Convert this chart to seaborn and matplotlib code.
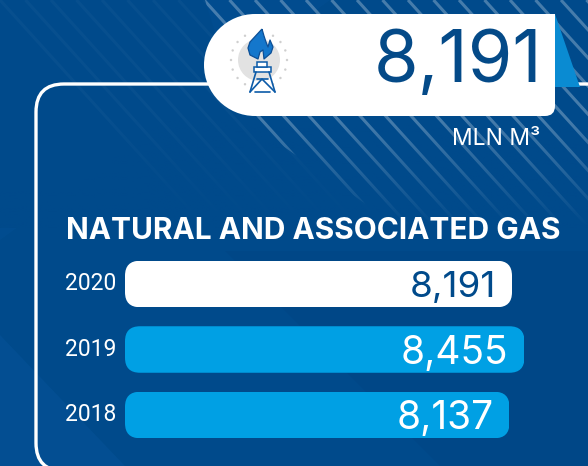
import numpy as np
import seaborn as sns
import matplotlib
matplotlib.use('Agg')
import matplotlib.pyplot as plt
from matplotlib.patches import FancyBboxPatch, PathPatch, Polygon, Circle
from matplotlib.path import Path
from matplotlib.transforms import ScaledTranslation

# chart values
years = ['2020', '2019', '2018']
gas_values = [8191, 8455, 8137]
value_labels = ['8,191', '8,455', '8,137']
headline = '8,191'
unit = 'MLN M³'
title = 'NATURAL AND ASSOCIATED GAS'

NAVY = '#004a8b'
BLUE = '#00a0e4'
W, H = 588, 466

sns.set_theme(style='white')
plt.rcParams['font.family'] = ['Inter', 'DejaVu Sans']

fig = plt.figure(figsize=(W / 100, H / 100), dpi=100)

# background layer works in reference pixels
bg = fig.add_axes([0, 0, 1, 1])
bg.axis('off')
fig.patch.set_facecolor(NAVY)

# soft diagonal bands
bg.add_patch(Polygon([(0, 335), (0, 466), (125, 466)], color='#0a5aa3', alpha=0.3, lw=0))
bg.add_patch(Polygon([(0, 0), (150, 0), (0, 110)], color='#0a5aa3', alpha=0.35, lw=0))
bg.add_patch(Polygon([(0, 110), (150, 0), (330, 0), (0, 240)], color='#0a5aa3', alpha=0.18, lw=0))
bg.add_patch(Polygon([(225, 251), (588, 251), (588, 466), (440, 466)], color='#003f7c', alpha=0.25, lw=0))

# white stripes, upper right
for start in np.arange(0, 800, 25.5):
    xs = np.array([start, start + 204])
    ys = np.array([0, 225])
    bg.plot(xs, ys, color='white', lw=2.2, alpha=0.28, solid_capstyle='butt', zorder=1)
# fade the stripes towards the bottom and the left
fade = np.zeros((120, 2, 4))
fade[..., :3] = matplotlib.colors.to_rgb(NAVY)
fade[..., 3] = np.clip((np.linspace(0, 1, 120)[:, None] - 0.15) * 1.2, 0, 1)
bg.imshow(fade, extent=[0, W, 228, 100], aspect='auto', zorder=2)
bg.add_patch(Polygon([(0, 0), (205, 0), (240, 116), (400, 228), (0, 228)], fc=NAVY, ec='none', alpha=0.9, zorder=2))
bg.set_xlim(0, W)
bg.set_ylim(H, 0)

# white frame running off the picture
frame = Path([(590, 84), (64, 84), (36, 84), (36, 112), (36, 443), (36, 471), (64, 471)],
             [Path.MOVETO, Path.LINETO, Path.CURVE3, Path.CURVE3, Path.LINETO, Path.CURVE3, Path.CURVE3])
bg.add_patch(PathPatch(frame, fc='none', ec='white', lw=2.4, zorder=3))

# headline tab
tx0, tx1, ty0, ty1 = 204, 555, 14, 116
k = 0.55
tab = Path([(tx1, ty0), (tx0 + 51, ty0), (tx0 + 51 - 51 * k, ty0), (tx0, ty0 + 51 - 51 * k), (tx0, ty0 + 51),
            (tx0, ty1 - 51 + 51 * k), (tx0 + 51 - 51 * k, ty1), (tx0 + 51, ty1),
            (tx1 - 10, ty1), (tx1, ty1), (tx1, ty1 - 10), (tx1, ty0)],
           [Path.MOVETO, Path.LINETO, Path.CURVE4, Path.CURVE4, Path.CURVE4,
            Path.CURVE4, Path.CURVE4, Path.CURVE4, Path.LINETO, Path.CURVE3, Path.CURVE3, Path.CLOSEPOLY])
bg.add_patch(Polygon([(555, 14), (580, 87), (555, 87)], fc='#0a8bd2', ec='none', zorder=4))
bg.add_patch(PathPatch(tab, fc='white', ec='none', zorder=5))

# gas derrick icon
bg.add_patch(Circle((259, 60), 21, fc='#e2e2e2', ec='none', zorder=6))
for a in np.arange(0, 360, 20):
    if 250 < a < 290 or 60 < a < 120:
        continue
    bg.add_patch(Circle((259 + 28 * np.cos(np.radians(a)), 60 + 28 * np.sin(np.radians(a))), 1.2,
                        fc='#cfcfcf', ec='none', zorder=6))
flame = Path([(262, 29), (250, 42), (248, 48), (250, 55), (258, 59), (260, 52), (263, 50), (264, 59), (271, 53),
              (273, 47), (270, 40), (268, 47), (266, 42), (264, 36), (262, 29)])
bg.add_patch(PathPatch(flame, fc='#1477cc', ec='#0c4f96', lw=0.9, joinstyle='round', zorder=7))
dk = '#0c5ba8'
bg.add_patch(Polygon([(254, 67), (271, 67), (271, 72), (254, 72)], fc='white', ec=dk, lw=1.1, zorder=7))
bg.add_patch(Polygon([(257, 62), (267, 62), (267, 67), (257, 67)], fc='white', ec=dk, lw=1.1, zorder=7))
for xs, ys in [([256, 250], [72, 92]), ([269, 275], [72, 92]), ([250, 262, 275], [92, 79, 92]),
               ([255, 270], [92, 92]), ([257, 268], [79, 79])]:
    bg.plot(xs, ys, color=dk, lw=1.2, zorder=7)

bg.text(543, 63, headline, color='#044a88', fontsize=52, ha='right', va='center', zorder=8)
bg.text(540, 139, unit, color='white', fontsize=16.5, ha='right', va='center', zorder=8)
bg.text(66, 231, title, color='white', fontsize=21.5, fontweight='bold', ha='left', va='center', zorder=8)

# bars on their own zero based scale
px_per_unit = 387 / 8191
ax = fig.add_axes([125 / W, 1 - 447.75 / H, (W - 125) / W, 196.5 / H])
ax.patch.set_alpha(0)
sns.barplot(x=gas_values, y=years, hue=years, palette=['white', BLUE, BLUE], order=years, orient='h',
            width=0.71, saturation=1, legend=False, linewidth=0, ax=ax)
ax.set_xlim(0, (W - 125) / px_per_unit)
ax.set_ylim(2.5, -0.5)
sns.despine(ax=ax, left=True, bottom=True)
ax.set_xlabel('')
ax.set_ylabel('')
ax.set_xticks([])
ax.tick_params(axis='y', length=0, pad=6.5)
for lab in ax.get_yticklabels():
    lab.set_color('white')
    lab.set_fontsize(16.5)
    lab.set_fontfamily(['Roboto', 'DejaVu Sans'])
    lab.set_transform(lab.get_transform() + ScaledTranslation(0, 2 / 72, fig.dpi_scale_trans))

# round the bar ends by clipping
fig.canvas.draw()
for bar in ax.patches:
    bar.set_edgecolor('none')
    b = bar.get_extents().transformed(bg.transData.inverted())
    clip = FancyBboxPatch((b.x0, min(b.y0, b.y1)), b.width, abs(b.height),
                          boxstyle='round,pad=0,rounding_size=15', transform=bg.transData)
    bar.set_clip_path(clip)

for i, (v, lab) in enumerate(zip(gas_values, value_labels)):
    ax.annotate(lab, (v, i), xytext=(-11.5, 0), textcoords='offset points', ha='right', va='center_baseline',
                color=NAVY if i == 0 else 'white', fontsize=26.5 if i == 0 else 28)

fig.savefig('out.png', dpi=100, facecolor=NAVY)
